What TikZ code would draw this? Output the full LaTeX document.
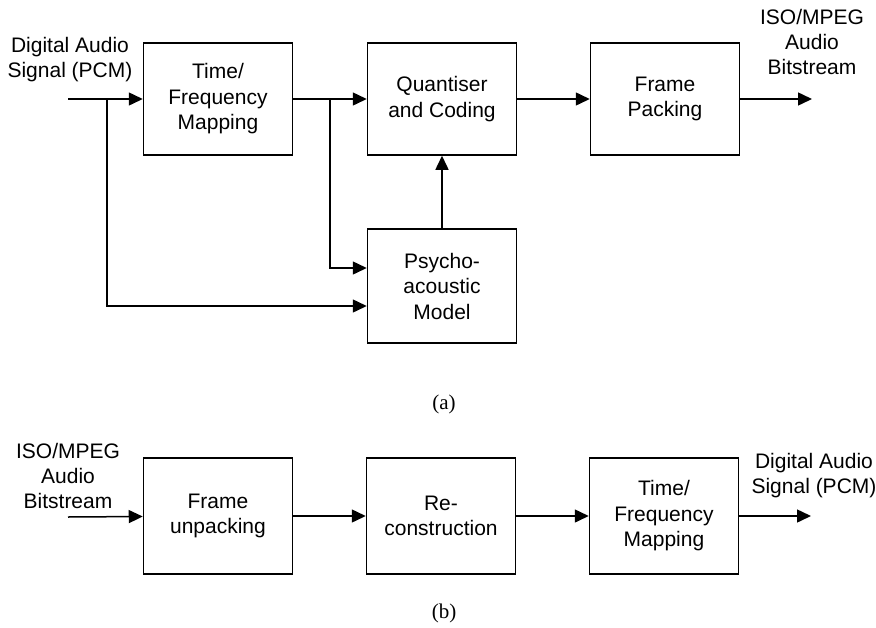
\documentclass[tikz,border=0pt]{standalone}
\usepackage{fontspec}
\setmainfont{Liberation Sans}
\newfontfamily\capfont{Liberation Serif}
\usetikzlibrary{arrows.meta}
\begin{document}
\begin{tikzpicture}[x=1pt,y=-1pt,
  blk/.style={draw,line width=1.5pt,minimum width=149pt,minimum height=112pt,align=center,inner sep=0pt,font=\fontsize{21}{25.5}\selectfont},
  lbl/.style={align=center,inner sep=0pt,font=\fontsize{21}{25}\selectfont},
  captxt/.style={inner sep=0pt,font=\capfont\fontsize{21}{25}\selectfont},
  arr/.style={line width=1.5pt,-{Triangle[length=14pt,width=13pt]}},
  ln/.style={line width=1.5pt}]
\useasboundingbox (0,0) rectangle (876,627);

% ---- (a) encoder ----
\node[blk] (tf) at (218,99) {Time/\\Frequency\\Mapping};
\node[blk] (qc) at (442,99) {Quantiser\\and Coding};
\node[blk] (fp) at (665,99) {Frame\\Packing};
\node[blk,minimum height=114pt] (pm) at (442,286) {Psycho-\\acoustic\\Model};

\node[lbl] (inlbl) at (70,60) {Digital Audio\\Signal (PCM)};
\node[lbl] (outlbl) at (812,42) {ISO/MPEG\\Audio\\Bitstream};

\coordinate (in) at (68,99);
\coordinate (out) at (812,99);
\coordinate (b1) at (107,99);
\coordinate (b2) at (330,99);

\draw[arr] (in) -- (tf);
\draw[arr] (tf) -- (qc);
\draw[arr] (qc) -- (fp);
\draw[arr] (fp.east) -- (out);
\draw[arr] (pm) -- (qc);
\draw[arr] (b1) |- ([yshift=-20pt]pm.west);
\draw[arr] (b2) |- ([yshift=18pt]pm.west);

\node[captxt] (capa) at (444,404) {(a)};

% ---- (b) decoder ----
\node[blk,minimum height=116pt] (fu) at (218,516) {Frame\\unpacking};
\node[blk,minimum height=116pt] (rc) at (441,516) {Re-\\construction};
\node[blk,minimum height=116pt] (tf2) at (664,516) {Time/\\Frequency\\Mapping};

\node[lbl] (in2lbl) at (68,476) {ISO/MPEG\\Audio\\Bitstream};
\node[lbl] (out2lbl) at (814,476) {Digital Audio\\Signal (PCM)};

\coordinate (in2) at (68,517);
\coordinate (out2) at (811,516);

\draw[arr] (in2) -- (fu);
\draw[arr] (fu) -- (rc);
\draw[arr] (rc) -- (tf2);
\draw[arr] (tf2.east) -- (out2);

\node[captxt] (capb) at (444,613) {(b)};
\end{tikzpicture}
\end{document}
